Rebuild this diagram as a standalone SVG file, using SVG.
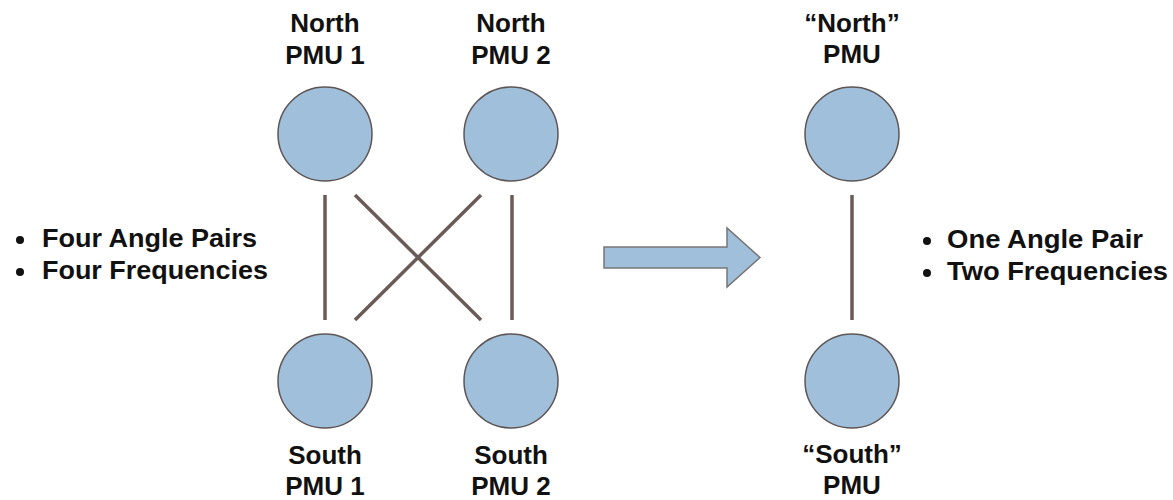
<svg xmlns="http://www.w3.org/2000/svg" width="1173" height="500" viewBox="0 0 1173 500">
<style>
.node{fill:#a0bfda;stroke:#5e5555;stroke-width:1.5}
.lbl{font-family:"Liberation Sans",Arial,sans-serif;font-weight:bold;font-size:26px;fill:#111;text-anchor:middle}
.bul{font-family:"Liberation Sans",Arial,sans-serif;font-weight:bold;font-size:25px;fill:#111}
.conn{stroke:#6b5b56;stroke-width:3.5;fill:none}
</style>
<rect width="1173" height="500" fill="#fff"/>
<g id="connectors">
<line class="conn" x1="325" y1="195" x2="325" y2="320"/>
<line class="conn" x1="512" y1="195" x2="512" y2="320"/>
<line class="conn" x1="355" y1="195" x2="481" y2="320"/>
<line class="conn" x1="481" y1="195" x2="355" y2="320"/>
<line class="conn" x1="852" y1="195" x2="852" y2="320"/>
</g>
<g id="north1"><circle class="node" cx="325" cy="134" r="47"/><text class="lbl" x="325" y="32">North</text><text class="lbl" x="325" y="64">PMU 1</text></g>
<g id="north2"><circle class="node" cx="511" cy="134" r="47"/><text class="lbl" x="511" y="32">North</text><text class="lbl" x="511" y="64">PMU 2</text></g>
<g id="south1"><circle class="node" cx="325" cy="381" r="47"/><text class="lbl" x="325" y="464">South</text><text class="lbl" x="325" y="495">PMU 1</text></g>
<g id="south2"><circle class="node" cx="511" cy="381" r="47"/><text class="lbl" x="511" y="464">South</text><text class="lbl" x="511" y="495">PMU 2</text></g>
<g id="northC"><circle class="node" cx="852" cy="134" r="47"/><text class="lbl" x="852" y="32">“North”</text><text class="lbl" x="852" y="63">PMU</text></g>
<g id="southC"><circle class="node" cx="852" cy="381" r="47"/><text class="lbl" x="852" y="463">“South”</text><text class="lbl" x="852" y="494">PMU</text></g>
<g id="arrow"><polygon points="604,247 727,247 727,228 760,257.5 727,287 727,268 604,268" fill="#a0bfda" stroke="#7a7575" stroke-width="1.5"/></g>
<g id="left-notes">
<circle cx="20" cy="240" r="4" fill="#111"/><text class="bul" x="42" y="247" textLength="215" lengthAdjust="spacingAndGlyphs">Four Angle Pairs</text>
<circle cx="20" cy="272" r="4" fill="#111"/><text class="bul" x="42" y="279" textLength="226" lengthAdjust="spacingAndGlyphs">Four Frequencies</text>
</g>
<g id="right-notes">
<circle cx="927" cy="241" r="4" fill="#111"/><text class="bul" x="947" y="248" textLength="196" lengthAdjust="spacingAndGlyphs">One Angle Pair</text>
<circle cx="927" cy="273" r="4" fill="#111"/><text class="bul" x="947" y="280" textLength="221" lengthAdjust="spacingAndGlyphs">Two Frequencies</text>
</g>
</svg>
